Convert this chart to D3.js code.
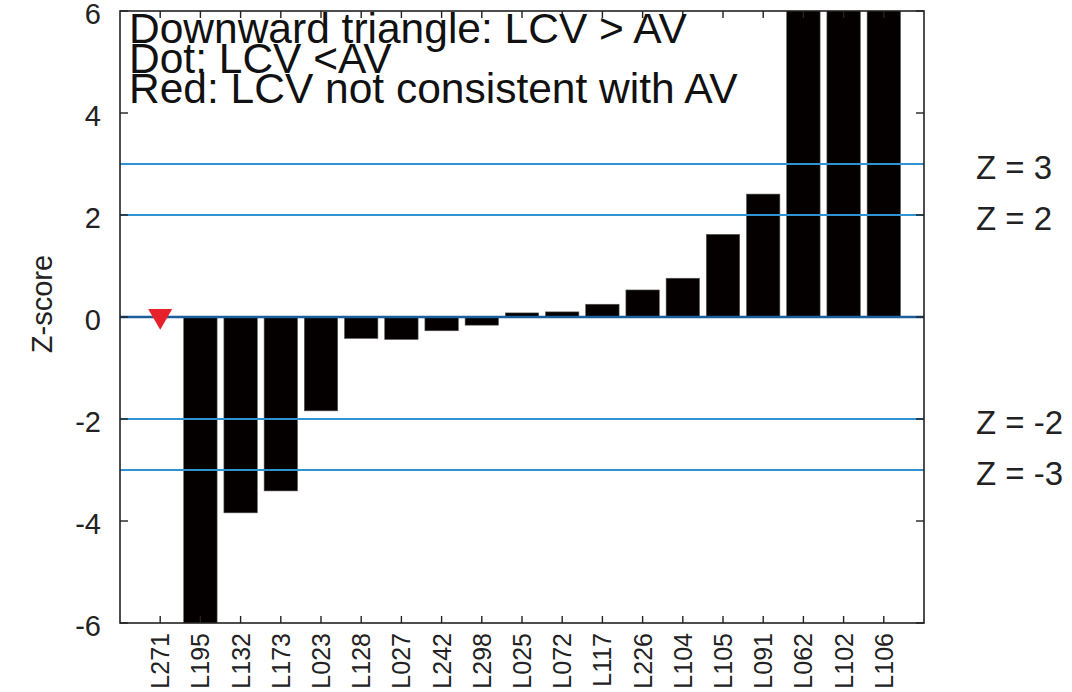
<!DOCTYPE html>
<html><head><meta charset="utf-8">
<script src="https://cdn.jsdelivr.net/npm/d3@7"></script>
<style>body{margin:0;background:#fff;}svg{display:block;font-family:"Liberation Sans",Arial,sans-serif;}</style>
</head><body>
<svg id="c" width="1072" height="692"></svg>
<script>
const categories = ["L271","L195","L132","L173","L023","L128","L027","L242","L298","L025","L072","L117","L226","L104","L105","L091","L062","L102","L106"];
const zScores = [0,-6.5,-3.84,-3.41,-1.84,-0.42,-0.44,-0.27,-0.16,0.08,0.10,0.25,0.53,0.76,1.62,2.41,7,7,7];
const markerCats = ["L271"];
const markerValues = [0];
const refLines = [3,2,0,-2,-3];
const refLabels = ["Z = 3","Z = 2","","Z = -2","Z = -3"];
const yTicks = [-6,-4,-2,0,2,4,6];
const legendLines = ["Downward triangle: LCV > AV","Dot: LCV <AV","Red: LCV not consistent with AV"];

const svg = d3.select("#c");
const L = 120, R = 924, T = 11, B = 623;
const x = d3.scalePoint().domain(categories).range([L, R]).padding(1);
const y = d3.scaleLinear().domain([-6, 6]).range([B, T]);
const bw = x.step() * 0.83;

svg.append("defs").append("clipPath").attr("id","clip")
  .append("rect").attr("x",L).attr("y",T).attr("width",R-L).attr("height",B-T);

const g = svg.append("g").attr("clip-path","url(#clip)");
g.selectAll("rect.bar").data(categories.map((c,i)=>({c, v:zScores[i]}))).join("rect")
  .attr("class","bar")
  .attr("x", d => x(d.c) - bw/2)
  .attr("width", bw)
  .attr("y", d => y(Math.max(0, d.v)))
  .attr("height", d => Math.abs(y(d.v) - y(0)))
  .attr("fill", "#050000")
  .attr("stroke", "#555").attr("stroke-width", 0.6);

// reference lines
g.selectAll("line.ref").data(refLines).join("line")
  .attr("x1", L).attr("x2", R)
  .attr("y1", d => y(d)).attr("y2", d => y(d))
  .attr("stroke", d => d === 0 ? "#1a5f9a" : "#2f92d2")
  .attr("stroke-width", d => d === 0 ? 2.5 : 2);

// markers
svg.selectAll("path.mark").data(markerCats.map((c,i)=>({c, v:markerValues[i]}))).join("path")
  .attr("d", d3.symbol(d3.symbolTriangle, 250))
  .attr("transform", d => `translate(${x(d.c)},${y(d.v)-1}) rotate(180)`)
  .attr("fill", "#e8202a");

// frame
svg.append("rect").attr("x",L).attr("y",T).attr("width",R-L).attr("height",B-T)
  .attr("fill","none").attr("stroke","#222").attr("stroke-width",1.6);

// y ticks inward both sides
const yt = svg.append("g");
yTicks.forEach(t => {
  yt.append("line").attr("x1",L).attr("x2",L+8).attr("y1",y(t)).attr("y2",y(t)).attr("stroke","#222").attr("stroke-width",1.4);
  yt.append("line").attr("x1",R).attr("x2",R-8).attr("y1",y(t)).attr("y2",y(t)).attr("stroke","#222").attr("stroke-width",1.4);
  yt.append("text").attr("x",101).attr("y",y(t)+3).attr("dy","0.36em")
    .attr("text-anchor","end").attr("font-size",29).attr("fill","#222").text(t);
});

// x ticks inward top & bottom + labels
const xt = svg.append("g");
categories.forEach(c => {
  xt.append("line").attr("x1",x(c)).attr("x2",x(c)).attr("y1",B).attr("y2",B-7).attr("stroke","#222").attr("stroke-width",1.4);
  xt.append("line").attr("x1",x(c)).attr("x2",x(c)).attr("y1",T).attr("y2",T+7).attr("stroke","#222").attr("stroke-width",1.4);
  xt.append("text").attr("transform",`translate(${x(c)+9},633) rotate(-90)`)
    .attr("text-anchor","end").attr("font-size",25).attr("fill","#222").text(c);
});

// y label
svg.append("text").attr("transform","translate(52,304) rotate(-90)")
  .attr("text-anchor","middle").attr("font-size",29).attr("fill","#222").text("Z-score");

// ref labels
refLines.forEach((z,i) => {
  if (!refLabels[i]) return;
  svg.append("text").attr("x",976).attr("y",y(z)+3).attr("dy","0.36em")
    .attr("font-size",33).attr("fill","#222").text(refLabels[i]);
});

// legend text
legendLines.forEach((t,i) => {
  svg.append("text").attr("x",129).attr("y",43 + i*30)
    .attr("font-size",42.5).attr("fill","#111").text(t);
});
</script>
</body></html>
